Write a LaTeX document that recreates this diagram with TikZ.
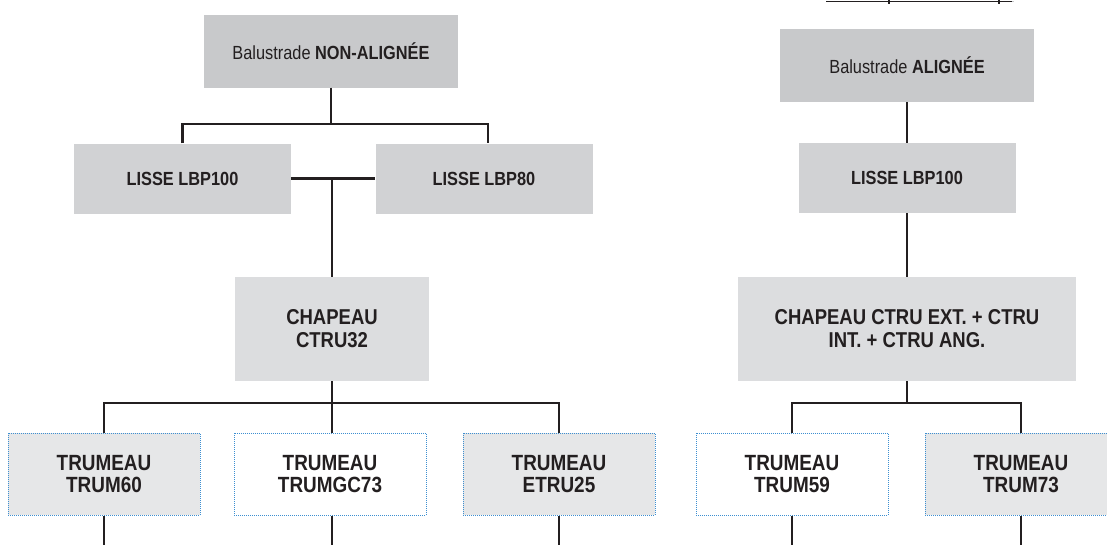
\documentclass[tikz,border=0pt]{standalone}
\usepackage{fontspec}
\setmainfont{Liberation Sans}[FakeStretch=0.86]
\usetikzlibrary{calc}
\definecolor{inkdark}{HTML}{231F20}
\definecolor{greytop}{HTML}{C8C9CB}
\definecolor{greylisse}{HTML}{D1D2D4}
\definecolor{greychap}{HTML}{DCDDDF}
\definecolor{greytrum}{HTML}{E6E7E8}
\definecolor{dotblue}{HTML}{3D8FD1}
\tikzset{
  box/.style={inner sep=0pt,align=center,text=inkdark},
  topbox/.style={box,fill=greytop,minimum width=254pt,minimum height=73pt,font=\fontsize{19}{22}\selectfont},
  lissebox/.style={box,fill=greylisse,minimum width=217pt,minimum height=70pt,font=\bfseries\fontsize{19}{22}\selectfont},
  chapbox/.style={box,fill=greychap,minimum height=104pt,font=\bfseries\fontsize{21.5}{23}\selectfont},
  trubox/.style={box,draw=dotblue,line width=1pt,dash pattern=on 1pt off 1pt,minimum width=192pt,minimum height=82pt,font=\bfseries\fontsize{22}{21.5}\selectfont},
  trugrey/.style={trubox,fill=greytrum},
  link/.style={draw=inkdark,line width=2.2pt}
}
\begin{document}
\begin{tikzpicture}[x=1pt,y=-1pt]
  \useasboundingbox (0,0) rectangle (1107,544);
  \clip (0,0) rectangle (1107,544);
  % cut-off table edge
  \draw[inkdark,line width=1.5pt] (826,1.5) -- (1012,1.5);
  \draw[inkdark,line width=1.5pt] (889,0) -- (889,3.5) (999,0) -- (999,3.5);
  \draw[greytop,line width=1.5pt] (1012,1.5) -- (1014,1.5);
  % non aligned
  \node[topbox] (balnon) at (331,51) {Balustrade \textbf{NON-ALIGNÉE}};
  \node[lissebox] (lisseA) at (182.5,178.5) {LISSE LBP100};
  \node[lissebox] (lisseB) at (484,178.5) {LISSE LBP80};
  \node[chapbox,minimum width=194pt] (chapA) at (332,329) {CHAPEAU\\CTRU32};
  \node[trugrey] (trumA) at (104,474) {TRUMEAU\\TRUM60};
  \node[trubox] (trumB) at (330,474) {TRUMEAU\\TRUMGC73};
  \node[trugrey] (trumC) at (559,474) {TRUMEAU\\ETRU25};
  % aligned
  \node[topbox] (balal) at (907,65.5) {Balustrade \textbf{ALIGNÉE}};
  \node[lissebox] (lisseR) at (907,178) {LISSE LBP100};
  \node[chapbox,minimum width=338pt] (chapR) at (907,329) {CHAPEAU CTRU EXT. + CTRU\\INT. + CTRU ANG.};
  \node[trubox] (trumD) at (792,474) {TRUMEAU\\TRUM59};
  \node[trugrey] (trumE) at (1021,474) {TRUMEAU\\TRUM73};
  % connectors
  \coordinate (jtop) at ($(balnon.south)+(0,36)$);
  \draw[link] (balnon.south) -- (jtop);
  \draw[link] (lisseA.north) |- (jtop) -| ($(lisseB.north)+(4,0)$);
  \draw[link] (lisseA.east) -- (lisseB.west);
  \draw[link] (chapA.north) -- (chapA.north |- lisseA.east);
  \coordinate (jbot) at ($(chapA.south)+(0,22)$);
  \draw[link] (chapA.south) -- (jbot);
  \draw[link] (trumA.north) |- (jbot) -| (trumC.north);
  \draw[link] (jbot) -- ($(trumB.north)+(2,0)$);
  \draw[link] (balal.south) -- (lisseR.north);
  \draw[link] (lisseR.south) -- (chapR.north);
  \coordinate (jright) at ($(chapR.south)+(0,22)$);
  \draw[link] (chapR.south) -- (jright);
  \draw[link] (trumD.north) |- (jright) -| (trumE.north);
  \foreach \t/\dx in {trumA/0,trumB/2,trumC/0,trumD/0,trumE/0}
    \draw[link] ($(\t.south)+(\dx,0)$) -- ($(\t.south)+(\dx,30)$);
\end{tikzpicture}
\end{document}
